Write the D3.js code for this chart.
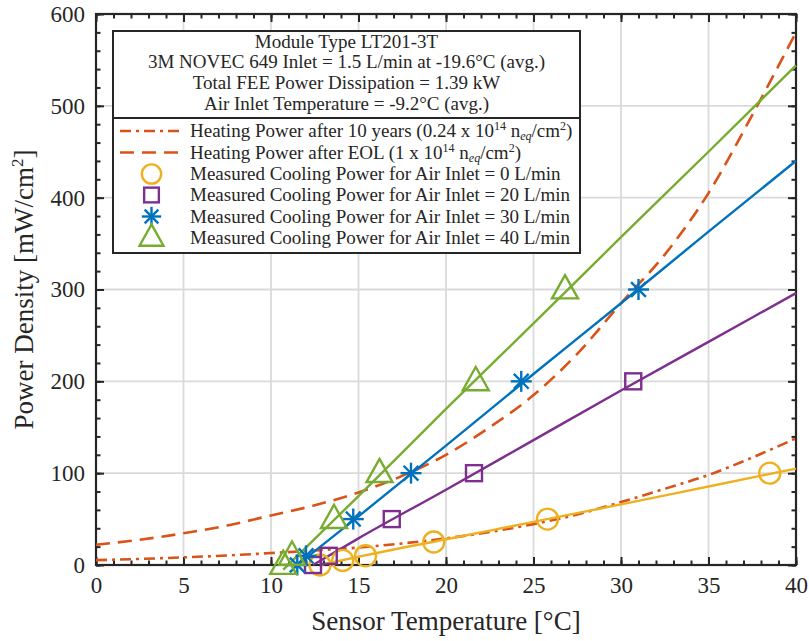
<!DOCTYPE html>
<html>
<head>
<meta charset="utf-8">
<script src="https://cdn.jsdelivr.net/npm/d3@7"></script>
<style>
  body { margin: 0; background: #fff; }
  svg { display: block; }
  text { font-family: "Liberation Serif", "Times New Roman", serif; fill: #262626; }
</style>
</head>
<body>
<svg id="chart" width="809" height="641"></svg>
<script>
// ---------------- data ----------------
const xTicks = [0, 5, 10, 15, 20, 25, 30, 35, 40];
const yTicks = [0, 100, 200, 300, 400, 500, 600];

// heating power curves
const heatX     = [0, 2.5, 5, 7.5, 10, 12.5, 15, 17.5, 20, 22.5, 25, 27.5, 30, 32.5, 35, 37.5, 40];
const heat10Y   = [5.3, 6.6, 8.3, 10.4, 13, 15.8, 19, 23.5, 29, 36, 44.5, 55, 68.5, 83, 98, 117, 138];
const heatEolY  = [22, 27.5, 34.5, 43, 54, 65, 79, 97, 120, 150, 185, 230, 285, 338, 405, 490, 580];

// measured cooling power (markers)
const air0X  = [12.8, 14.1, 15.4, 19.3, 25.8, 38.5];
const air0Y  = [0, 5, 10, 25, 50, 100];
const air20X = [12.4, 13.3, 16.9, 21.6, 30.7];
const air20Y = [0, 10, 50, 100, 200];
const air30X = [11.5, 12.0, 14.7, 18.0, 24.3, 31.0];
const air30Y = [0, 10, 50, 100, 200, 300];
const air40X = [10.7, 11.2, 13.6, 16.2, 21.7, 26.8];
const air40Y = [0, 10, 50, 100, 200, 300];

// fitted lines
const fit0X  = [12.8, 15, 20, 25, 30, 35, 40];
const fit0Y  = [0, 9, 28, 47, 66, 85.5, 105];
const fit20X = [12.4, 15, 20, 25, 30, 35, 40];
const fit20Y = [0, 29, 82, 136, 190, 243, 296];
const fit30X = [11.5, 15, 20, 25, 30, 35, 40];
const fit30Y = [0, 53, 130, 208, 285, 363, 440];
const fit40X = [10.7, 15, 20, 25, 30, 35, 40];
const fit40Y = [-5, 75, 170, 263, 357, 450, 544];

const titleLines = [
  "Module Type LT201-3T",
  "3M NOVEC 649 Inlet = 1.5 L/min at -19.6°C (avg.)",
  "Total FEE Power Dissipation = 1.39 kW",
  "Air Inlet Temperature = -9.2°C (avg.)"
];

const colors = {
  heat: "#D95319", a0: "#EDB120", a20: "#7E2F8E", a30: "#0072BD", a40: "#77AC30"
};

// ---------------- setup ----------------
const svg = d3.select("#chart");
const L = 96, R = 796, T = 14, B = 565;
const x = d3.scaleLinear().domain([0, 40]).range([L, R]);
const y = d3.scaleLinear().domain([0, 600]).range([B, T]);
const axisColor = "#262626";

// grid
const grid = svg.append("g");
grid.selectAll("line.gx").data(xTicks.slice(1, -1)).join("line")
  .attr("x1", d => x(d)).attr("x2", d => x(d)).attr("y1", T).attr("y2", B)
  .attr("stroke", "#dadada").attr("stroke-width", 1.8);
grid.selectAll("line.gy").data(yTicks.slice(1, -1)).join("line")
  .attr("y1", d => y(d)).attr("y2", d => y(d)).attr("x1", L).attr("x2", R)
  .attr("stroke", "#dadada").attr("stroke-width", 1.8);

// axes helper
const minorX = d3.range(0, 41, 1);
const minorY = d3.range(0, 601, 20);
function styleAxis(g) {
  g.selectAll("line").attr("stroke", axisColor).attr("stroke-width", 2);
  g.select(".domain").remove();
  g.selectAll("text").attr("fill", axisColor).style("font-family", "'Liberation Serif', serif");
}
// minor ticks
svg.append("g").attr("transform", `translate(0,${B})`)
  .call(d3.axisBottom(x).tickValues(minorX).tickSize(-4.5).tickFormat(""))
  .call(styleAxis);
svg.append("g").attr("transform", `translate(0,${T})`)
  .call(d3.axisTop(x).tickValues(minorX).tickSize(-4.5).tickFormat(""))
  .call(styleAxis);
svg.append("g").attr("transform", `translate(${L},0)`)
  .call(d3.axisLeft(y).tickValues(minorY).tickSize(-4.5).tickFormat(""))
  .call(styleAxis);
svg.append("g").attr("transform", `translate(${R},0)`)
  .call(d3.axisRight(y).tickValues(minorY).tickSize(-4.5).tickFormat(""))
  .call(styleAxis);
// major ticks
svg.append("g").attr("transform", `translate(0,${B})`)
  .call(d3.axisBottom(x).tickValues(xTicks).tickSize(-8).tickPadding(12).tickFormat(d3.format("d")))
  .call(styleAxis).call(g => g.selectAll("text").style("font-size", "23px"));
svg.append("g").attr("transform", `translate(0,${T})`)
  .call(d3.axisTop(x).tickValues(xTicks).tickSize(-8).tickFormat(""))
  .call(styleAxis);
svg.append("g").attr("transform", `translate(${L},0)`)
  .call(d3.axisLeft(y).tickValues(yTicks).tickSize(-8).tickPadding(11).tickFormat(d3.format("d")))
  .call(styleAxis).call(g => g.selectAll("text").style("font-size", "23px"));
svg.append("g").attr("transform", `translate(${R},0)`)
  .call(d3.axisRight(y).tickValues(yTicks).tickSize(-8).tickFormat(""))
  .call(styleAxis);

// box
svg.append("rect").attr("x", L).attr("y", T).attr("width", R - L).attr("height", B - T)
  .attr("fill", "none").attr("stroke", axisColor).attr("stroke-width", 2.2);

// axis labels
svg.append("text").attr("x", (L + R) / 2).attr("y", 630).attr("text-anchor", "middle")
  .style("font-size", "27px").text("Sensor Temperature [°C]");
const yl = svg.append("text").attr("transform", `translate(33,${(T + B) / 2}) rotate(-90)`)
  .attr("text-anchor", "middle").style("font-size", "27px");
yl.append("tspan").text("Power Density [mW/cm");
yl.append("tspan").attr("dy", -10).style("font-size", "17px").text("2");
yl.append("tspan").attr("dy", 10).text("]");

// ---------------- series ----------------
const plot = svg.append("g");
const line = d3.line().x(d => x(d[0])).y(d => y(d[1])).curve(d3.curveMonotoneX);
const zip = (a, b) => a.map((v, i) => [v, b[i]]);

plot.append("path").datum(zip(heatX, heat10Y)).attr("d", line)
  .attr("fill", "none").attr("stroke", colors.heat).attr("stroke-width", 2.6)
  .attr("stroke-dasharray", "11,5,3,5");
plot.append("path").datum(zip(heatX, heatEolY)).attr("d", line)
  .attr("fill", "none").attr("stroke", colors.heat).attr("stroke-width", 2.6)
  .attr("stroke-dasharray", "14,8");

const fits = [
  [fit0X, fit0Y, colors.a0], [fit20X, fit20Y, colors.a20],
  [fit30X, fit30Y, colors.a30], [fit40X, fit40Y, colors.a40]
];
fits.forEach(([fx, fy, c]) => {
  plot.append("path").datum(zip(fx, fy)).attr("d", line)
    .attr("fill", "none").attr("stroke", c).attr("stroke-width", 2.4);
});

// marker drawers
function drawMarker(g, type, cx, cy, color, s = 1) {
  const sw = 2.4;
  if (type === "circle") {
    g.append("circle").attr("cx", cx).attr("cy", cy).attr("r", 10.5 * s)
      .attr("fill", "none").attr("stroke", color).attr("stroke-width", sw);
  } else if (type === "square") {
    const h = 8 * s;
    g.append("rect").attr("x", cx - h).attr("y", cy - h).attr("width", 2 * h).attr("height", 2 * h)
      .attr("fill", "none").attr("stroke", color).attr("stroke-width", sw);
  } else if (type === "star") {
    const r = 10.5 * s;
    [0, 45, 90, 135].forEach(a => {
      const rad = a * Math.PI / 180;
      g.append("line").attr("x1", cx - r * Math.cos(rad)).attr("y1", cy - r * Math.sin(rad))
        .attr("x2", cx + r * Math.cos(rad)).attr("y2", cy + r * Math.sin(rad))
        .attr("stroke", color).attr("stroke-width", sw);
    });
  } else if (type === "triangle") {
    const w = 13 * s, top = 14.3 * s, base = 8.9 * s;
    g.append("path").attr("d", `M${cx},${cy - top}L${cx + w},${cy + base}L${cx - w},${cy + base}Z`)
      .attr("fill", "none").attr("stroke", color).attr("stroke-width", sw).attr("stroke-linejoin", "miter");
  }
}
const markerSets = [
  [air0X, air0Y, "circle", colors.a0],
  [air20X, air20Y, "square", colors.a20],
  [air30X, air30Y, "star", colors.a30],
  [air40X, air40Y, "triangle", colors.a40]
];
markerSets.forEach(([mx, my, t, c]) => {
  mx.forEach((v, i) => drawMarker(plot, t, x(v), y(my[i]), c));
});

// ---------------- legend ----------------
const lg = svg.append("g");
const lx0 = 113, ly0 = 31, lx1 = 580, ly1 = 253, ldiv = 118;
lg.append("rect").attr("x", lx0).attr("y", ly0).attr("width", lx1 - lx0).attr("height", ly1 - ly0)
  .attr("fill", "#fff").attr("stroke", axisColor).attr("stroke-width", 2);
lg.append("line").attr("x1", lx0).attr("x2", lx1).attr("y1", ldiv).attr("y2", ldiv)
  .attr("stroke", axisColor).attr("stroke-width", 2);
const titleY = [47.5, 68, 89, 109.5];
titleLines.forEach((t, i) => {
  lg.append("text").attr("x", (lx0 + lx1) / 2).attr("y", titleY[i]).attr("text-anchor", "middle")
    .style("font-size", "19px").text(t);
});

const rowY = [131, 152.5, 174, 195, 216.5, 237.5];
const sx0 = 120, sx1 = 183, tx = 190;
function legendText(yy) {
  return lg.append("text").attr("x", tx).attr("y", yy + 6).style("font-size", "19px");
}
// heating rows
[["11,5,3,5", "10 years (0.24 x 10", "14"], ["14,8", "EOL (1 x 10", "14"]].forEach((r, i) => {
  const yy = rowY[i];
  lg.append("line").attr("x1", sx0).attr("x2", sx1).attr("y1", yy).attr("y2", yy)
    .attr("stroke", colors.heat).attr("stroke-width", 2.6).attr("stroke-dasharray", r[0]);
  const t = legendText(yy);
  t.append("tspan").text("Heating Power after " + r[1]);
  t.append("tspan").attr("dy", -7).style("font-size", "12px").text(r[2]);
  t.append("tspan").attr("dy", 7).text(" n");
  t.append("tspan").attr("dy", 3).style("font-size", "12px").style("font-style", "italic").text("eq");
  t.append("tspan").attr("dy", -3).text("/cm");
  t.append("tspan").attr("dy", -7).style("font-size", "12px").text("2");
  t.append("tspan").attr("dy", 7).text(")");
});
const flowLabels = ["0", "20", "30", "40"];
markerSets.forEach(([, , t, c], i) => {
  const yy = rowY[i + 2];
  drawMarker(lg, t, (sx0 + sx1) / 2, yy, c, 0.92);
  legendText(yy).text(`Measured Cooling Power for Air Inlet = ${flowLabels[i]} L/min`);
});
</script>
</body>
</html>
